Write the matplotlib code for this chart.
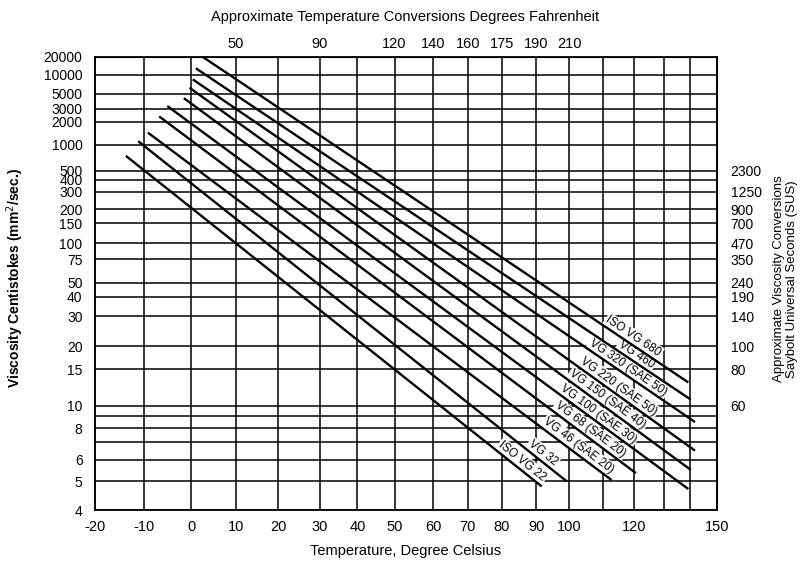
import numpy as np
import matplotlib
matplotlib.use("Agg")
import matplotlib.pyplot as plt
from matplotlib.ticker import FixedLocator, FixedFormatter, NullFormatter

plt.rcParams['font.family'] = ['Liberation Sans', 'DejaVu Sans']

# ---------------- data ----------------
grades = ['ISO VG 680', 'VG 460', 'VG 320 (SAE 50)', 'VG 220 (SAE 50)', 'VG 150 (SAE 40)',
          'VG 100 (SAE 30)', 'VG 68 (SAE 20)', 'VG 46 (SAE 20)', 'VG 32', 'ISO VG 22']
t_start = [2.6, 1.0, 0.3, -0.4, -1.6, -5.1, -6.8, -9.2, -11.2, -13.7]
v_start = [20000, 12800, 8400, 6200, 4300, 3300, 2350, 1430, 1110, 737]
t_end = [139.4, 140.3, 141.9, 141.9, 140.3, 139.4, 120.6, 112.8, 99.2, 91.6]
v_end = [12.9, 10.7, 8.5, 6.5, 5.5, 4.7, 5.35, 5.05, 5.0, 4.8]

celsius_ticks = list(range(-20, 151, 10))
celsius_labels = ['-20', '-10', '0', '10', '20', '30', '40', '50', '60', '70', '80', '90',
                  '100', '', '120', '', '', '150']
fahr_pos = [10, 30, 50, 60, 70, 80, 90, 100]
fahr_labels = ['50', '90', '120', '140', '160', '175', '190', '210']
cst_ticks = [4, 5, 6, 8, 10, 15, 20, 30, 40, 50, 75, 100, 150, 200, 300, 400, 500,
             1000, 2000, 3000, 5000, 10000, 20000]
cst_minor = [7, 9]
sus_pos = [10, 15, 20, 30, 40, 50, 75, 100, 150, 200, 300, 500]
sus_labels = ['60', '80', '100', '140', '190', '240', '350', '470', '700', '900', '1250', '2300']

# label placement along each line (temperature of foot point) - layout
label_t = [118.4, 119.5, 116.8, 113.7, 110.1, 107.4, 104.9, 101.4, 90.6, 84.6]

# ---------------- chart-paper coordinate functions ----------------
# temperature spacing of the chart paper (ruling positions)
X_ANCHOR_T = np.arange(-20, 151, 10, dtype=float)
X_ANCHOR_U = np.array([95, 144.1, 191.4, 235.6, 278, 319.5, 357.4, 394.5, 433.3, 467.7,
                       501.6, 536.4, 569.4, 602.9, 634.1, 664, 689.9, 716.7])


def X(t):
    return np.interp(t, X_ANCHOR_T, X_ANCHOR_U)


def Y(v):
    # Walther (ASTM D341) viscosity ordinate
    return np.log10(np.log10(np.asarray(v, dtype=float) + 0.7))


W, H = 800, 563
fig = plt.figure(figsize=(W / 100, H / 100), dpi=100)
left, right, top, bottom = 95, 716.7, 57, 510
ax = fig.add_axes([left / W, 1 - bottom / H, (right - left) / W, (bottom - top) / H])
ax.set_xlim(X(-20), X(150))
ax.set_ylim(Y(4), Y(20000))

TICKFS = 10.5
ax.xaxis.set_major_locator(FixedLocator(X(celsius_ticks)))
ax.xaxis.set_major_formatter(FixedFormatter(celsius_labels))
ax.xaxis.set_minor_locator(FixedLocator([]))
ax.yaxis.set_major_locator(FixedLocator(Y(cst_ticks)))
ax.yaxis.set_major_formatter(FixedFormatter([str(v) for v in cst_ticks]))
ax.yaxis.set_minor_locator(FixedLocator(Y(cst_minor)))
ax.yaxis.set_minor_formatter(NullFormatter())
ax.tick_params(axis='x', which='both', length=0, pad=7, labelsize=TICKFS)
ax.tick_params(axis='y', which='both', length=0, pad=9, labelsize=10)

ax.grid(True, which='both', color='black', lw=1.1)
ax.set_axisbelow(True)
for s in ax.spines.values():
    s.set_linewidth(1.3)

# top (Fahrenheit) axis
secx = ax.secondary_xaxis('top')
secx.xaxis.set_major_locator(FixedLocator(X(fahr_pos)))
secx.xaxis.set_major_formatter(FixedFormatter(fahr_labels))
secx.xaxis.set_minor_locator(FixedLocator([]))
secx.tick_params(length=0, pad=4, labelsize=TICKFS)

# right (SUS) axis
secy = ax.secondary_yaxis('right')
secy.yaxis.set_major_locator(FixedLocator(Y(sus_pos)))
secy.yaxis.set_major_formatter(FixedFormatter(sus_labels))
secy.yaxis.set_minor_locator(FixedLocator([]))
secy.tick_params(length=0, pad=10, labelsize=10)

# viscosity lines
for g, t0, v0, t1, v1 in zip(grades, t_start, v_start, t_end, v_end):
    ax.plot(X([t0, t1]), Y([v0, v1]), color='black', lw=1.7, solid_capstyle='butt',
            zorder=4, clip_on=False)

# labels
fig.canvas.draw()
OFF = 7.5  # px, perpendicular offset
for g, t0, v0, t1, v1, tl in zip(grades, t_start, v_start, t_end, v_end, label_t):
    p0 = ax.transData.transform((X(t0), Y(v0)))
    p1 = ax.transData.transform((X(t1), Y(v1)))
    ang = np.degrees(np.arctan2(p1[1] - p0[1], p1[0] - p0[0]))
    xd = ax.transData.transform((X(tl), Y(v0)))[0]
    frac = (xd - p0[0]) / (p1[0] - p0[0])
    yd = p0[1] + frac * (p1[1] - p0[1])
    th = np.radians(ang)
    nx, ny = -np.sin(th), np.cos(th)  # normal pointing up
    cx, cy = xd + OFF * nx, yd + OFF * ny
    ax.text(cx, cy, g, transform=None, rotation=ang, rotation_mode='anchor',
            ha='center', va='center', fontsize=8.5, zorder=3,
            bbox=dict(boxstyle='square,pad=0.12', fc='white', ec='none'))

fig.text(405.5 / W, 1 - 17 / H, 'Approximate Temperature Conversions Degrees Fahrenheit',
         ha='center', va='center', fontsize=10.5)
fig.text(405.5 / W, 1 - 551 / H, 'Temperature, Degree Celsius',
         ha='center', va='center', fontsize=10.5)
fig.text(15 / W, 1 - 278 / H, 'Viscosity Centistokes (mm$^2$/sec.)', rotation=90,
         ha='center', va='center', fontsize=10, fontweight='bold')
fig.text(779 / W, 1 - 279 / H, 'Approximate Viscosity Conversions', rotation=90,
         ha='center', va='center', fontsize=9.5)
fig.text(792 / W, 1 - 279 / H, 'Saybolt Universal Seconds (SUS)', rotation=90,
         ha='center', va='center', fontsize=9.5)

fig.savefig('out.png', dpi=100)
